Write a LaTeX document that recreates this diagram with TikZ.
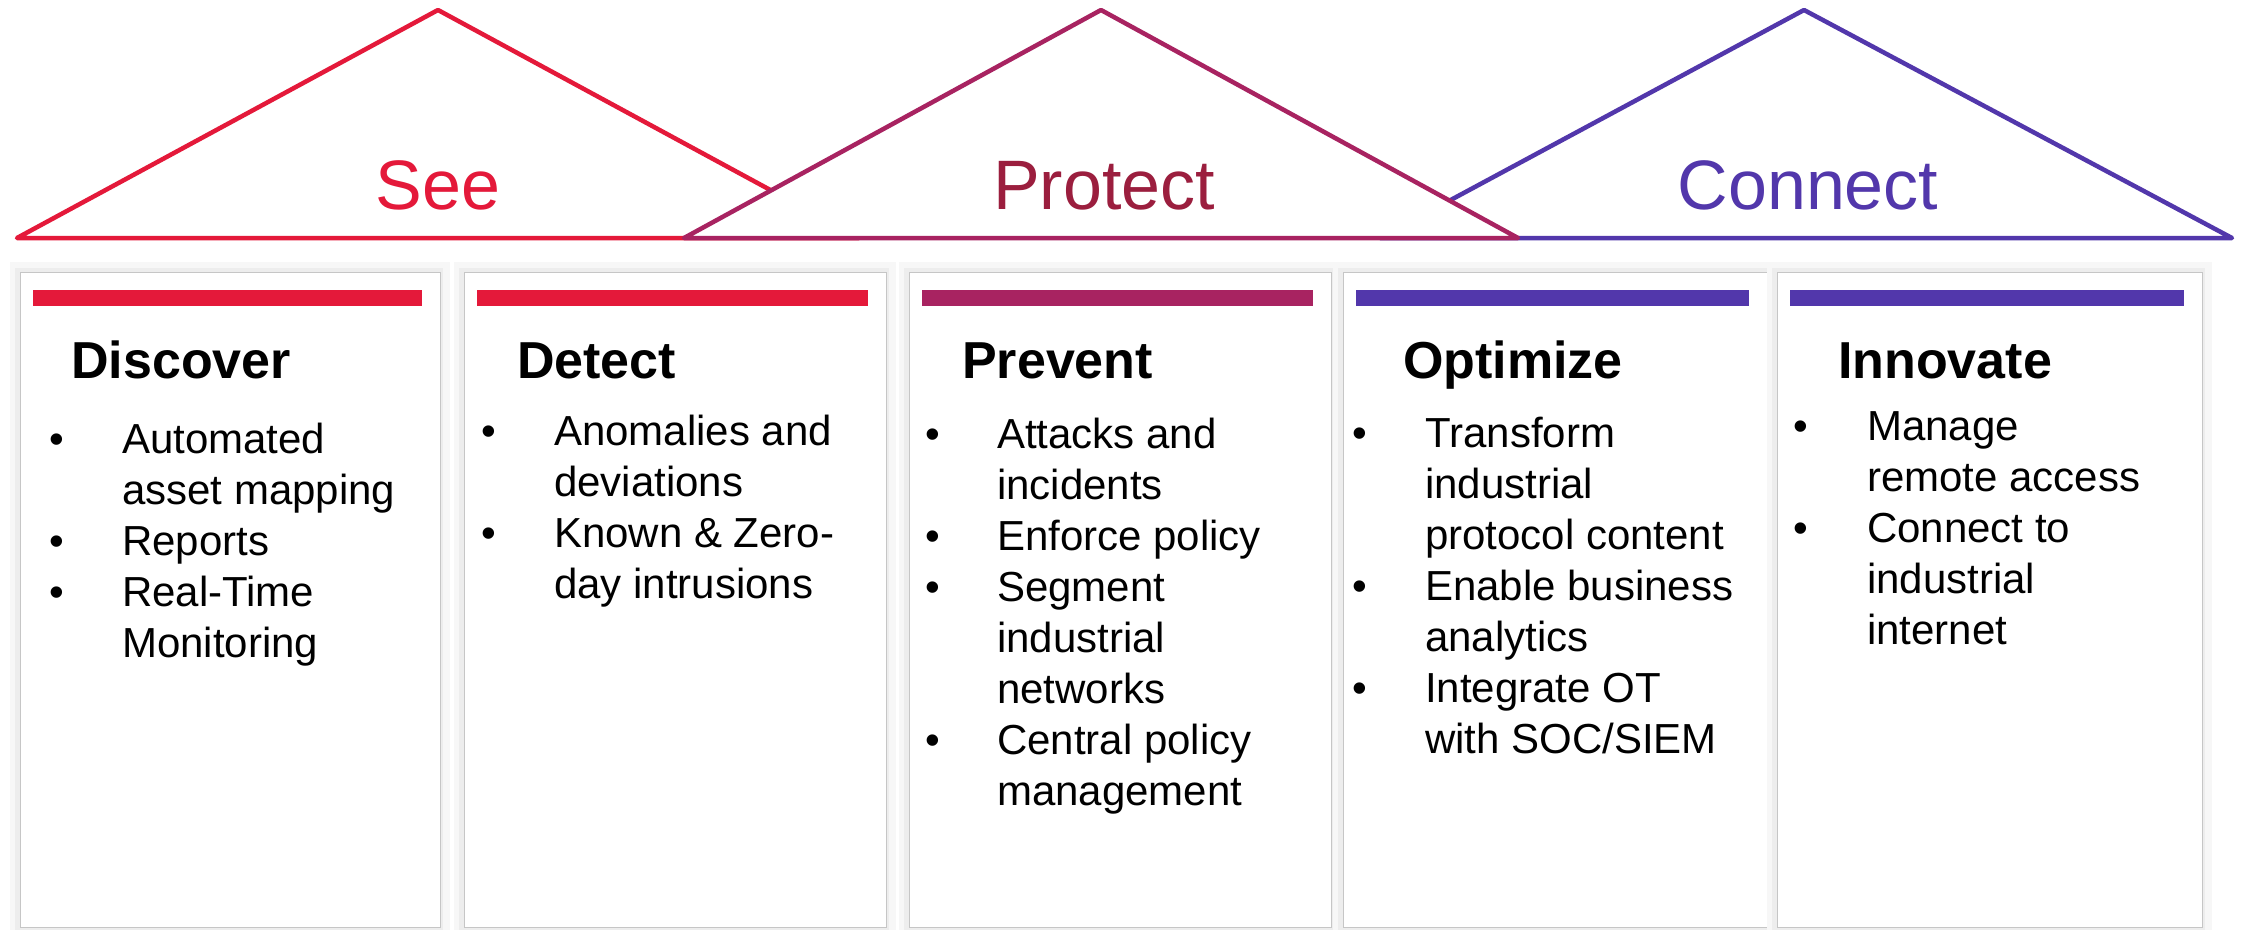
\documentclass[tikz,border=0pt]{standalone}
\usepackage{fontspec}
\setmainfont{Liberation Sans}
\usepackage{array}

\definecolor{seered}{HTML}{E4193A}
\definecolor{protpurple}{HTML}{A82361}
\definecolor{prottext}{HTML}{9B1E3E}
\definecolor{connblue}{HTML}{5237AB}

\begin{document}
\begin{tikzpicture}[x=1pt, y=-1pt,
    roof/.style={line width=4.5pt, line join=round},
    roofname/.style={font=\fontsize{70}{84}\selectfont, inner sep=0pt, anchor=base},
    card/.style={draw=gray!45, line width=1pt, fill=white, anchor=north west,
                 minimum height=655pt, inner sep=0pt},
    bar/.style={anchor=north west, minimum height=16pt, inner sep=0pt},
    head/.style={font=\fontsize{52}{62}\selectfont\bfseries, inner sep=0pt, anchor=base west},
    body/.style={font=\fontsize{42}{51}\selectfont, inner sep=0pt, anchor=base west}]
    \useasboundingbox (0,0) rectangle (2244,930);
    \fill[white] (0,0) rectangle (2244,930);

    % roofs
    \draw[roof, seered] (17,238) -- (438,10) -- (859,238) -- cycle;
    \draw[roof, connblue] (1380,238) -- (1804,10) -- (2232,238) -- cycle;
    \draw[roof, protpurple, fill=white] (684,238) -- (1101,10) -- (1518,238) -- cycle;
    \node[roofname, text=seered] (see) at (438,209) {See};
    \node[roofname, text=prottext] (protect) at (1104,209) {Protect};
    \node[roofname, text=connblue] (connect) at (1808,209) {Connect};

    % cards
    \foreach \n/\x/\w/\c in {1/20/420/seered, 2/464/422/seered, 3/909/422/protpurple,
                             4/1343/424/connblue, 5/1777/425/connblue} {
        \fill[gray!6] (\x-10,262) rectangle (\x+\w+10,930);
        \fill[gray!14] (\x-5,268) rectangle (\x+\w+3,930);
        \node[card, minimum width=\w] (c\n) at (\x,272) {};
        \node[bar, fill=\c, minimum width=\w-31] (b\n) at (\x+13,290) {};
    }

    \node[head] (t1) at (71,378) {Discover};
    \node[body] (l1) at (49,453) {\begin{tabular}[t]{@{}p{73pt}@{}l@{}}
        \textbullet & Automated\\ & asset mapping\\
        \textbullet & Reports\\
        \textbullet & Real-Time\\ & Monitoring
    \end{tabular}};

    \node[head] (t2) at (517,378) {Detect};
    \node[body] (l2) at (481,445) {\begin{tabular}[t]{@{}p{73pt}@{}l@{}}
        \textbullet & Anomalies and\\ & deviations\\
        \textbullet & Known \& Zero-\\ & day intrusions
    \end{tabular}};

    \node[head] (t3) at (962,378) {Prevent};
    \node[body] (l3) at (925,448) {\begin{tabular}[t]{@{}p{72pt}@{}l@{}}
        \textbullet & Attacks and\\ & incidents\\
        \textbullet & Enforce policy\\
        \textbullet & Segment\\ & industrial\\ & networks\\
        \textbullet & Central policy\\ & management
    \end{tabular}};

    \node[head] (t4) at (1403,378) {Optimize};
    \node[body] (l4) at (1352,447) {\begin{tabular}[t]{@{}p{73pt}@{}l@{}}
        \textbullet & Transform\\ & industrial\\ & protocol content\\
        \textbullet & Enable business\\ & analytics\\
        \textbullet & Integrate OT\\ & with SOC/SIEM
    \end{tabular}};

    \node[head] (t5) at (1838,378) {Innovate};
    \node[body] (l5) at (1793,440) {\begin{tabular}[t]{@{}p{74pt}@{}l@{}}
        \textbullet & Manage\\ & remote access\\
        \textbullet & Connect to\\ & industrial\\ & internet
    \end{tabular}};
\end{tikzpicture}
\end{document}
